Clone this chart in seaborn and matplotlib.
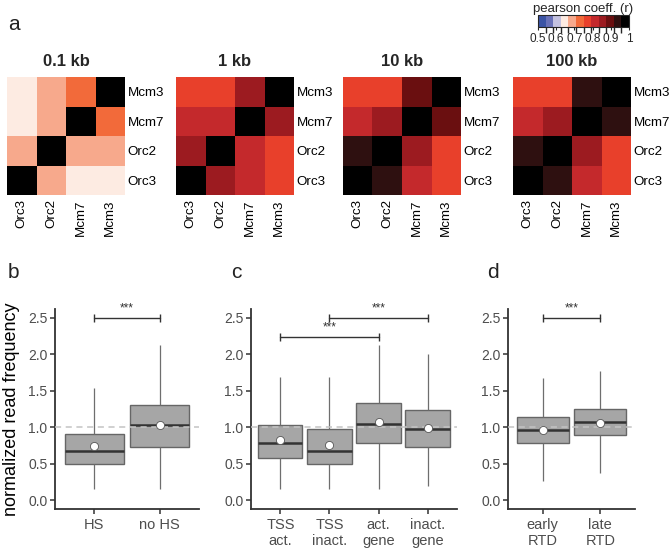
import numpy as np
import pandas as pd
import matplotlib
matplotlib.use("Agg")
import matplotlib.pyplot as plt
import seaborn as sns
from matplotlib.colors import ListedColormap, BoundaryNorm
from matplotlib.cm import ScalarMappable

# -------------------- DATA --------------------
genes_rows = ["Mcm3", "Mcm7", "Orc2", "Orc3"]
genes_cols = ["Orc3", "Orc2", "Mcm7", "Mcm3"]
bin_titles = ["0.1 kb", "1 kb", "10 kb", "100 kb"]

corr_01kb = [[0.65, 0.69, 0.73, 1.00],
             [0.65, 0.69, 1.00, 0.73],
             [0.69, 1.00, 0.69, 0.69],
             [1.00, 0.69, 0.65, 0.65]]
corr_1kb = [[0.77, 0.77, 0.85, 1.00],
            [0.81, 0.81, 1.00, 0.85],
            [0.85, 1.00, 0.81, 0.77],
            [1.00, 0.85, 0.81, 0.77]]
corr_10kb = [[0.77, 0.77, 0.89, 1.00],
             [0.81, 0.85, 1.00, 0.89],
             [0.94, 1.00, 0.85, 0.77],
             [1.00, 0.94, 0.81, 0.77]]
corr_100kb = [[0.77, 0.77, 0.94, 1.00],
              [0.81, 0.85, 1.00, 0.94],
              [0.94, 1.00, 0.85, 0.77],
              [1.00, 0.94, 0.81, 0.77]]

cbar_colors = ["#3b54a5", "#6a72b8", "#c4c2e0", "#fdebe2", "#f7a98c", "#f26a3a",
               "#e8402b", "#c4292c", "#9c1b20", "#6a0f10", "#2e1010", "#000000"]
cbar_ticks = [0.5, 0.6, 0.7, 0.8, 0.9, 1.0]
cbar_ticklabels = ["0.5", "0.6", "0.7", "0.8", "0.9", "1"]

# boxplot summaries (low whisker, Q1, median, Q3, high whisker, mean)
b_groups = ["HS", "no HS"]
b_low = [0.16, 0.16]
b_q1 = [0.49, 0.73]
b_med = [0.67, 1.03]
b_q3 = [0.91, 1.31]
b_high = [1.54, 2.12]
b_mean = [0.74, 1.03]

c_groups = ["TSS\nact.", "TSS\ninact.", "act.\ngene", "inact.\ngene"]
c_low = [0.16, 0.16, 0.16, 0.19]
c_q1 = [0.58, 0.49, 0.79, 0.73]
c_med = [0.79, 0.67, 1.04, 0.98]
c_q3 = [1.03, 0.97, 1.33, 1.24]
c_high = [1.69, 1.69, 2.12, 2.00]
c_mean = [0.82, 0.75, 1.07, 0.99]

d_groups = ["early\nRTD", "late\nRTD"]
d_low = [0.26, 0.37]
d_q1 = [0.78, 0.89]
d_med = [0.96, 1.07]
d_q3 = [1.14, 1.25]
d_high = [1.67, 1.77]
d_mean = [0.96, 1.06]

# significance brackets: (group i, group j, height)
b_sig = [(0, 1, 2.5)]
c_sig = [(0, 2, 2.24), (1, 3, 2.5)]
d_sig = [(0, 1, 2.5)]

# -------------------- STYLE --------------------
sns.set_theme(style="ticks")
plt.rcParams["font.family"] = ["Liberation Sans", "DejaVu Sans"]

W, H = 671, 554
fig = plt.figure(figsize=(W / 100, H / 100), dpi=100)


def frac(x0, y0, x1, y1):
    return [x0 / W, 1 - y1 / H, (x1 - x0) / W, (y1 - y0) / H]


# -------------------- HEATMAPS --------------------
cmap = ListedColormap(cbar_colors)
norm = BoundaryNorm(np.linspace(0.5, 1.0, len(cbar_colors) + 1), cmap.N)

heat_left = [7, 176, 343, 513]
for mat, title, x0 in zip([corr_01kb, corr_1kb, corr_10kb, corr_100kb], bin_titles, heat_left):
    ax = fig.add_axes(frac(x0, 77, x0 + 118, 195))
    dfm = pd.DataFrame(mat, index=genes_rows, columns=genes_cols)
    sns.heatmap(dfm, cmap=cmap, norm=norm, cbar=False, ax=ax, linewidths=0)
    ax.yaxis.tick_right()
    ax.tick_params(axis="y", length=0, labelsize=9.6, colors="black", pad=2)
    ax.tick_params(axis="x", length=0, labelsize=9.6, colors="black", pad=3)
    ax.set_yticklabels(genes_rows, rotation=0)
    ax.set_xticklabels(genes_cols, rotation=90)
    ax.set_xlabel("")
    ax.set_ylabel("")
    ax.set_title(title, fontsize=12, fontweight="bold", pad=8)

cax = fig.add_axes(frac(538, 15, 629, 27))
cb = fig.colorbar(ScalarMappable(norm=norm, cmap=cmap), cax=cax, orientation="horizontal",
                  ticks=cbar_ticks)
cb.ax.set_xticklabels(cbar_ticklabels)
cb.ax.tick_params(labelsize=8.5, length=2.5, width=0.8, pad=1.5)
cb.outline.set_linewidth(0.8)
cb.ax.set_title("pearson coeff. (r)", fontsize=9.5, pad=1.5)

# -------------------- BOXPLOTS --------------------
panels = [
    (frac(55, 309, 199, 509), b_groups, b_low, b_q1, b_med, b_q3, b_high, b_mean, b_sig),
    (frac(251, 309, 457, 509), c_groups, c_low, c_q1, c_med, c_q3, c_high, c_mean, c_sig),
    (frac(508, 309, 635, 509), d_groups, d_low, d_q1, d_med, d_q3, d_high, d_mean, d_sig),
]

for pos, groups, low, q1, med, q3, high, mean, sig in panels:
    ax = fig.add_axes(pos)
    rows = []
    for g, a, b, c, d, e in zip(groups, low, q1, med, q3, high):
        for v in (a, b, c, d, e):
            rows.append({"group": g, "value": v})
    df = pd.DataFrame(rows)
    sns.boxplot(data=df, x="group", y="value", order=groups, ax=ax, color="#a6a6a6",
                saturation=1, width=0.9, whis=(0, 100), showfliers=False, showcaps=False,
                linecolor="#666666", linewidth=1.0,
                medianprops=dict(color="#333333", linewidth=1.8),
                whiskerprops=dict(color="#6e6e6e", linewidth=0.9))
    ax.axhline(1.0, color="#c4c4c4", linestyle=(0, (4, 3)), linewidth=1.1, zorder=3)
    ax.scatter(np.arange(len(groups)), mean, s=34, color="white", edgecolor="#555555",
               linewidth=0.6, zorder=5)
    for i, j, h in sig:
        ax.plot([i, j], [h, h], color="#333333", linewidth=1.0, marker="|",
                markersize=6, markeredgewidth=1.0, zorder=4)
        ax.text((i + j) / 2, h + 0.04, "***", ha="center", va="bottom", fontsize=8.5,
                color="#333333")
    ax.set_xlim(-0.6, len(groups) - 0.4)
    ax.set_ylim(-0.12, 2.62)
    ax.set_yticks([0, 0.5, 1.0, 1.5, 2.0, 2.5])
    ax.set_yticklabels(["0.0", "0.5", "1.0", "1.5", "2.0", "2.5"])
    ax.set_xlabel("")
    ax.set_ylabel("")
    for s in ["top", "right"]:
        ax.spines[s].set_visible(False)
    for s in ["left", "bottom"]:
        ax.spines[s].set_color("#333333")
        ax.spines[s].set_linewidth(1.3)
    ax.tick_params(axis="y", labelsize=10, labelcolor="#4d4d4d", color="#333333",
                   length=3.5, width=1.1, pad=2)
    ax.tick_params(axis="x", labelsize=10.5, labelcolor="#4d4d4d", color="#333333",
                   length=3.5, width=1.1, pad=3)

fig.text(12 / W, 1 - 409 / H, "normalized read frequency", rotation=90, ha="center",
         va="center", fontsize=13, color="black")

# panel letters
for letter, x, y in [("a", 8, 25), ("b", 8, 273), ("c", 231, 273), ("d", 487, 273)]:
    fig.text(x / W, 1 - y / H, letter, fontsize=15, ha="left", va="center", color="#222222")

fig.savefig("out.png", dpi=100)
